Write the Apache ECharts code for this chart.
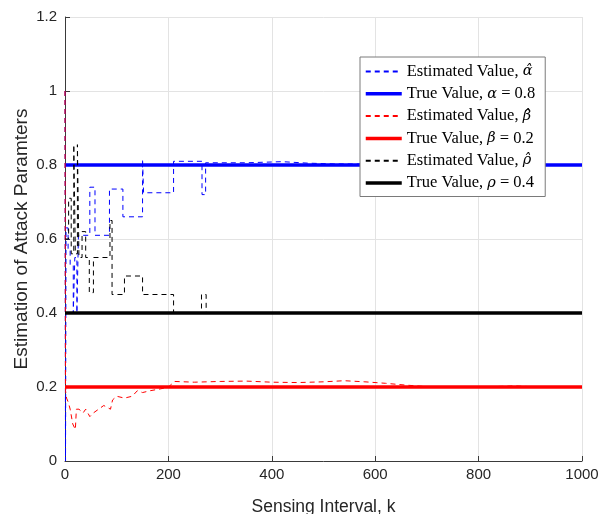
<!DOCTYPE html>
<html>
<head>
<meta charset="utf-8">
<script src="https://cdn.jsdelivr.net/npm/echarts@6/dist/echarts.min.js"></script>
<style>
  html, body { margin: 0; padding: 0; background: #fff; }
  #chart { width: 599px; height: 514px; }
</style>
</head>
<body>
<div id="chart"></div>
<script>
// Sensing interval range and x-axis ticks
const kRange = [0, 1000];
const xTicks = [0, 200, 400, 600, 800, 1000];
const yTicks = [0, 0.2, 0.4, 0.6, 0.8, 1, 1.2];

// True attack parameters
const alphaTrue = 0.8;
const betaTrue = 0.2;
const rhoTrue = 0.4;

// Estimated alpha: change points (k) and the value held from each point on
const alphaK =   [0, 1, 2, 6, 10, 16, 19, 23, 26, 48, 58, 86, 112, 150, 152, 210, 265, 272, 350, 420, 470, 520, 1000];
const alphaEst = [1.0, 0.0, 0.63, 0.57, 0.53, 0.4, 0.55, 0.4, 0.61, 0.74, 0.61, 0.735, 0.66, 0.815, 0.725, 0.81, 0.72, 0.806, 0.809, 0.805, 0.803, 0.8, 0.8];

// Estimated beta: per-interval estimate
const betaK =   [0, 1, 3, 6, 10, 15, 20, 22, 27, 35, 40, 48, 55, 65, 75, 88, 92, 100, 115, 130, 140, 150, 165, 185, 200, 212, 250, 300, 350, 400, 450, 500, 540, 580, 620, 660, 700, 750, 800, 850, 870, 900, 950];
const betaEst = [1.0, 0.19, 0.17, 0.16, 0.14, 0.1, 0.085, 0.14, 0.14, 0.13, 0.14, 0.12, 0.13, 0.14, 0.15, 0.14, 0.165, 0.175, 0.17, 0.175, 0.19, 0.185, 0.19, 0.195, 0.2, 0.215, 0.213, 0.215, 0.216, 0.213, 0.212, 0.214, 0.217, 0.214, 0.21, 0.205, 0.201, 0.2, 0.2, 0.202, 0.203, 0.201, 0.2];

// Estimated rho: change points (k) and the value held from each point on
const rhoK =   [0, 7, 12, 17, 20, 24, 27, 33, 40, 47, 55, 87, 91, 115, 150, 210, 264, 273, 1000];
const rhoEst = [0.6, 0.71, 0.56, 0.855, 0.56, 0.855, 0.55, 0.62, 0.55, 0.455, 0.55, 0.65, 0.45, 0.5, 0.45, 0.4, 0.45, 0.4, 0.4];

const pairs = (xs, ys) => xs.map((x, i) => [x, ys[i]]);
const flat = (v) => kRange.map(k => [k, v]);

const names = {
  aEst: 'Estimated Value, α̂',
  aTrue: 'True Value, α = 0.8',
  bEst: 'Estimated Value, β̂',
  bTrue: 'True Value, β = 0.2',
  rEst: 'Estimated Value, ρ̂',
  rTrue: 'True Value, ρ = 0.4'
};
const legendRich = {
  'Estimated Value, α̂': 'Estimated Value, {g|α̂}',
  'True Value, α = 0.8': 'True Value, {g|α} = 0.8',
  'Estimated Value, β̂': 'Estimated Value, {g|β̂}',
  'True Value, β = 0.2': 'True Value, {g|β} = 0.2',
  'Estimated Value, ρ̂': 'Estimated Value, {g|ρ̂}',
  'True Value, ρ = 0.4': 'True Value, {g|ρ} = 0.4'
};

const dashed = [5, 4];
const trueWidth = 3.5;
function estSeries(name, data, color, step) {
  return {
    name, type: 'line', data, step: step ? 'end' : false,
    showSymbol: false, symbol: 'none', animation: false,
    lineStyle: { color, width: 1, type: dashed },
    itemStyle: { color }
  };
}
function trueSeries(name, v, color) {
  return {
    name, type: 'line', data: flat(v),
    showSymbol: false, symbol: 'none', animation: false,
    lineStyle: { color, width: trueWidth },
    itemStyle: { color }
  };
}

const axisColor = '#3a3a3a';
const labelFont = 'Liberation Sans';
const legendFont = 'Liberation Serif';
const chart = echarts.init(document.getElementById('chart'));
chart.setOption({
  animation: false,
  backgroundColor: '#fff',
  grid: { left: 65, right: 17, top: 17, bottom: 53, outerBoundsMode: 'none', containLabel: false },
  xAxis: {
    type: 'value', min: kRange[0], max: kRange[1], interval: xTicks[1] - xTicks[0],
    name: 'Sensing Interval, k', nameLocation: 'middle', nameGap: 37,
    nameTextStyle: { fontFamily: labelFont, fontSize: 17.5, color: '#262626' },
    axisLine: { show: true, onZero: false, lineStyle: { color: axisColor, width: 1 } },
    axisTick: { show: true, inside: true, length: 5, lineStyle: { color: axisColor } },
    axisLabel: { fontFamily: labelFont, fontSize: 15, color: '#262626', margin: 6, formatter: v => String(v) },
    splitLine: { show: true, lineStyle: { color: '#e3e3e3', width: 1 } }
  },
  yAxis: {
    type: 'value', min: yTicks[0], max: yTicks[yTicks.length - 1], interval: 0.2,
    name: 'Estimation of Attack Paramters', nameLocation: 'middle', nameGap: 34,
    nameMoveOverlap: false,
    nameTextStyle: { fontFamily: labelFont, fontSize: 19, color: '#262626' },
    axisLine: { show: true, onZero: false, lineStyle: { color: axisColor, width: 1 } },
    axisTick: { show: true, inside: true, length: 5, lineStyle: { color: axisColor } },
    axisLabel: {
      fontFamily: labelFont, fontSize: 15, color: '#262626', margin: 8,
      formatter: v => String(Math.round(v * 10) / 10)
    },
    splitLine: { show: true, lineStyle: { color: '#e3e3e3', width: 1 } }
  },
  legend: {
    orient: 'vertical', left: 360, top: 57,
    padding: [6, 10, 5, 4],
    backgroundColor: '#fff', borderColor: '#7a7a7a', borderWidth: 1,
    itemWidth: 36, itemHeight: 14, itemGap: 5.3,
    itemStyle: { opacity: 0 },
    data: [
      { name: names.aEst },
      { name: names.aTrue, lineStyle: { width: trueWidth } },
      { name: names.bEst },
      { name: names.bTrue, lineStyle: { width: trueWidth } },
      { name: names.rEst },
      { name: names.rTrue, lineStyle: { width: trueWidth } }
    ],
    formatter: n => legendRich[n],
    textStyle: {
      fontFamily: legendFont, fontSize: 16.5, color: '#000',
      rich: { g: { fontFamily: 'DejaVu Serif', fontStyle: 'italic', fontSize: 14.5, color: '#000' } }
    }
  },
  series: [
    estSeries(names.aEst, pairs(alphaK, alphaEst), '#0000ff', true),
    trueSeries(names.aTrue, alphaTrue, '#0000ff'),
    estSeries(names.bEst, pairs(betaK, betaEst), '#ff0000', false),
    trueSeries(names.bTrue, betaTrue, '#ff0000'),
    estSeries(names.rEst, pairs(rhoK, rhoEst), '#000000', true),
    trueSeries(names.rTrue, rhoTrue, '#000000')
  ]
});
</script>
</body>
</html>
